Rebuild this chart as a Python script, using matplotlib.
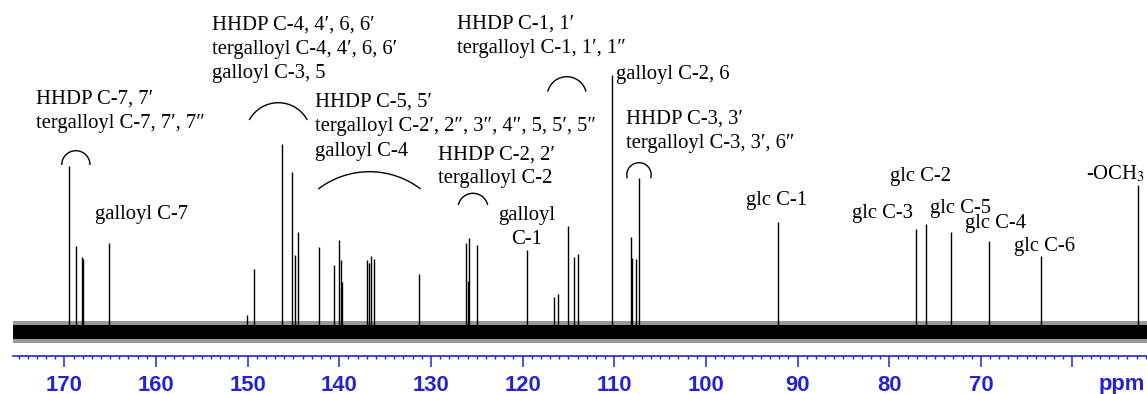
import numpy as np
import matplotlib
matplotlib.use("Agg")
import matplotlib.pyplot as plt
from matplotlib.patches import Arc

plt.rcParams['mathtext.fontset'] = 'stix'

# peak positions (ppm) and heights (tallest = 100)
carbonyl_ppm = [169.45, 168.69, 168.10, 167.99, 165.16]
carbonyl_int = [64.6, 33.5, 29.2, 28.4, 34.6]

aromatic_ppm = [150.07, 149.33, 146.21, 145.12, 144.86, 144.47, 142.18, 140.61,
                140.00, 139.84, 139.70, 137.00, 136.79, 136.54, 136.21, 131.27,
                126.17, 125.99, 125.84, 124.94, 119.51, 116.57, 116.10, 115.01,
                114.39, 113.92, 110.21, 108.17, 108.06, 107.59, 107.26]
aromatic_int = [6.6, 24.5, 73.2, 62.3, 30.0, 38.9, 33.1, 26.1,
                35.8, 28.0, 19.5, 28.0, 26.8, 29.6, 28.4, 22.6,
                34.6, 19.8, 36.6, 33.9, 31.9, 13.6, 14.8, 41.2,
                29.2, 30.4, 100.0, 37.0, 28.8, 28.4, 59.9]

glucose_ppm = [92.16, 77.07, 75.98, 73.29, 69.15, 63.45]
glucose_int = [42.9, 40.1, 42.0, 39.0, 35.4, 29.6]

methoxy_ppm = [52.86]
methoxy_int = [57.2]

major_ticks = list(range(60, 171, 10))
tick_labels = [str(v) if v > 60 else '' for v in major_ticks]
minor_ticks = [v for v in range(52, 176) if v % 10]

noise_core = 2.7
noise_edge = 4.4

SERIF = ['Liberation Serif', 'DejaVu Serif']
FS = 14.9
BLUE = '#2323d4'

fig = plt.figure(figsize=(11.47, 3.94), dpi=100)
ax = fig.add_axes([0, 0, 1, 1])
ax.set_xlim(177.02, 51.87)
ax.set_ylim(-24.12, 129.18)
ax.patch.set_visible(False)

# baseline noise band
span = [175.6, 51.87]
ax.fill_between(span, [-noise_edge] * 2, [noise_edge] * 2, color='0.6', lw=0)
ax.fill_between(span, [-noise_core] * 2, [noise_core] * 2, color='black', lw=0)

for ppm, inten in [(carbonyl_ppm, carbonyl_int), (aromatic_ppm, aromatic_int),
                   (glucose_ppm, glucose_int), (methoxy_ppm, methoxy_int)]:
    ax.vlines(ppm, 0, inten, color='black', lw=1.0)

# ppm ruler
for s in ['top', 'left', 'right']:
    ax.spines[s].set_visible(False)
ax.spines['bottom'].set_position(('data', -9.34))
ax.spines['bottom'].set_bounds(51.87, 175.6)
ax.spines['bottom'].set_color(BLUE)
ax.spines['bottom'].set_linewidth(1.2)
ax.set_yticks([])
ax.set_xticks(major_ticks)
ax.set_xticklabels(tick_labels)
ax.set_xticks(minor_ticks, minor=True)
ax.tick_params(axis='x', which='major', direction='out', length=8, width=1.1,
               color=BLUE, labelcolor=BLUE, pad=5.5)
ax.tick_params(axis='x', which='minor', direction='out', length=2.5, width=1.0,
               color=BLUE)
for lab in ax.get_xticklabels():
    lab.set_fontfamily('Liberation Sans')
    lab.set_fontweight('bold')
    lab.set_fontsize(15.8)

# annotation layer in pixel units
lay = fig.add_axes([0, 0, 1, 1])
lay.set_xlim(0, 1147)
lay.set_ylim(394, 0)
lay.axis('off')

lay.text(1122, 390, 'ppm', ha='center', va='baseline', color=BLUE,
         fontfamily='Liberation Sans', fontweight='bold', fontsize=15.8)

labels = [
    (36, 103.5, 'HHDP C-7, 7′'),
    (36, 127.5, 'tergalloyl C-7, 7′, 7″'),
    (95, 219.3, 'galloyl C-7'),
    (211.5, 30, 'HHDP C-4, 4′, 6, 6′'),
    (211.5, 54, 'tergalloyl C-4, 4′, 6, 6′'),
    (211.5, 78, 'galloyl C-3, 5'),
    (315, 106.5, 'HHDP C-5, 5′'),
    (315, 131, 'tergalloyl C-2′, 2″, 3″, 4″, 5, 5′, 5″'),
    (315, 155.5, 'galloyl C-4'),
    (457, 28.3, 'HHDP C-1, 1′'),
    (457, 52.5, 'tergalloyl C-1, 1′, 1″'),
    (438, 160, 'HHDP C-2, 2′'),
    (438, 182.5, 'tergalloyl C-2'),
    (616.5, 79, 'galloyl C-2, 6'),
    (626, 123.3, 'HHDP C-3, 3′'),
    (626, 148, 'tergalloyl C-3, 3′, 6″'),
    (746, 204.5, 'glc C-1'),
    (889.5, 181, 'glc C-2'),
    (852, 218.3, 'glc C-3'),
    (929.5, 213.3, 'glc C-5'),
    (965, 228.3, 'glc C-4'),
    (1013.5, 251, 'glc C-6'),
    (1086, 179.3, '-OCH$_3$'),
]
for x, y, t in labels:
    lay.text(x, y, t, ha='left', va='baseline', fontfamily=SERIF, fontsize=FS)

lay.text(526.7, 220, 'galloyl', ha='center', va='baseline', fontfamily=SERIF, fontsize=FS)
lay.text(526.7, 244, 'C-1', ha='center', va='baseline', fontfamily=SERIF, fontsize=FS)


def bracket(x0, x1, ytop, yend):
    hc = (x1 - x0) / 2
    s = yend - ytop
    r = (hc ** 2 + s ** 2) / (2 * s)
    cx, cy = (x0 + x1) / 2, ytop + r
    t1 = np.degrees(np.arctan2(s - r, -hc)) % 360
    t2 = np.degrees(np.arctan2(s - r, hc)) % 360
    if t2 < t1:
        t2 += 360
    lay.add_patch(Arc((cx, cy), 2 * r, 2 * r, theta1=t1, theta2=t2,
                      color='black', lw=1.0))


bracket(61.7, 90, 150.7, 165)
bracket(249.3, 307.3, 102.7, 120)
bracket(318.3, 420.7, 171.7, 189)
bracket(458.3, 487.7, 193.3, 205)
bracket(547.7, 586, 76.7, 91.7)
bracket(627.3, 650.7, 162.7, 178.3)

fig.savefig('out.png', dpi=100)
